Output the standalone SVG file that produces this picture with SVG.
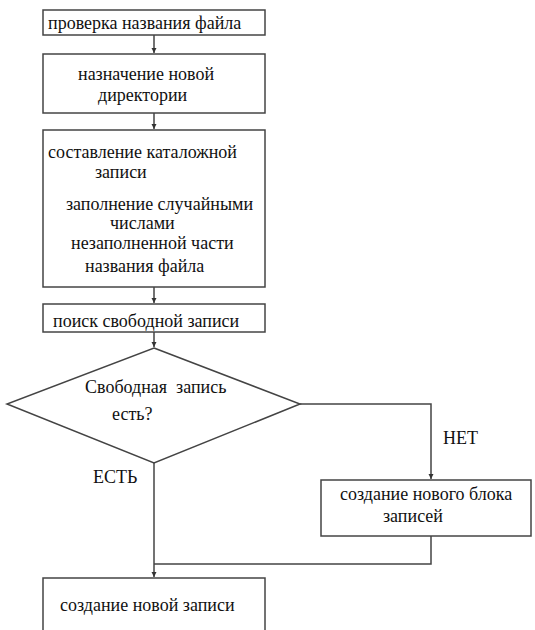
<svg xmlns="http://www.w3.org/2000/svg" width="535" height="630" viewBox="0 0 535 630">
<defs>
<style>
.box{fill:#fff;stroke:#444;stroke-width:1.5}
.ln{fill:none;stroke:#444;stroke-width:1.5}
.t{font-family:'Liberation Serif','Times New Roman',serif;font-size:18px;fill:#111}
</style>
<marker id="ah" markerWidth="6" markerHeight="6" refX="5" refY="3" orient="auto" markerUnits="userSpaceOnUse">
<path d="M0,0.5 L5,3 L0,5.5 Z" fill="#333"/>
</marker>
</defs>
<rect width="535" height="630" fill="#fff"/>
<g id="connectors">
<line class="ln" x1="154" y1="35" x2="154" y2="53" marker-end="url(#ah)"/>
<line class="ln" x1="154" y1="113" x2="154" y2="129" marker-end="url(#ah)"/>
<line class="ln" x1="154" y1="287" x2="154" y2="303" marker-end="url(#ah)"/>
<line class="ln" x1="154" y1="332" x2="154" y2="347" marker-end="url(#ah)"/>
<polyline class="ln" points="300,404 431,404 431,479" marker-end="url(#ah)"/>
<line class="ln" x1="154" y1="463" x2="154" y2="577" marker-end="url(#ah)"/>
<polyline class="ln" points="431,536 431,564 154,564"/>
</g>
<g id="n1">
<rect class="box" x="43" y="10" width="222" height="25"/>
<text class="t" x="48" y="29">проверка названия файла</text>
</g>
<g id="n2">
<rect class="box" x="43" y="54" width="222" height="59"/>
<text class="t" x="78" y="80">назначение новой</text>
<text class="t" x="98" y="101">директории</text>
</g>
<g id="n3">
<rect class="box" x="43" y="130" width="222" height="157"/>
<text class="t" x="48" y="158">составление каталожной</text>
<text class="t" x="95" y="178">записи</text>
<text class="t" x="66" y="210">заполнение случайными</text>
<text class="t" x="110" y="229">числами</text>
<text class="t" x="71" y="249">незаполненной части</text>
<text class="t" x="85" y="272">названия файла</text>
</g>
<g id="n4">
<rect class="box" x="43" y="304" width="222" height="28"/>
<text class="t" x="53" y="327">поиск свободной записи</text>
</g>
<g id="n5">
<polygon class="box" points="154,348 300,404 154,463 7,404"/>
<text class="t" x="85" y="393" xml:space="preserve">Свободная  запись</text>
<text class="t" x="112" y="420">есть?</text>
</g>
<text class="t" x="93" y="483">ЕСТЬ</text>
<text class="t" x="443" y="444">НЕТ</text>
<g id="n6">
<rect class="box" x="321" y="480" width="210" height="56"/>
<text class="t" x="340" y="500">создание нового блока</text>
<text class="t" x="383" y="522">записей</text>
</g>
<g id="n7">
<rect class="box" x="43" y="578" width="222" height="60"/>
<text class="t" x="60" y="611">создание новой записи</text>
</g>
</svg>
